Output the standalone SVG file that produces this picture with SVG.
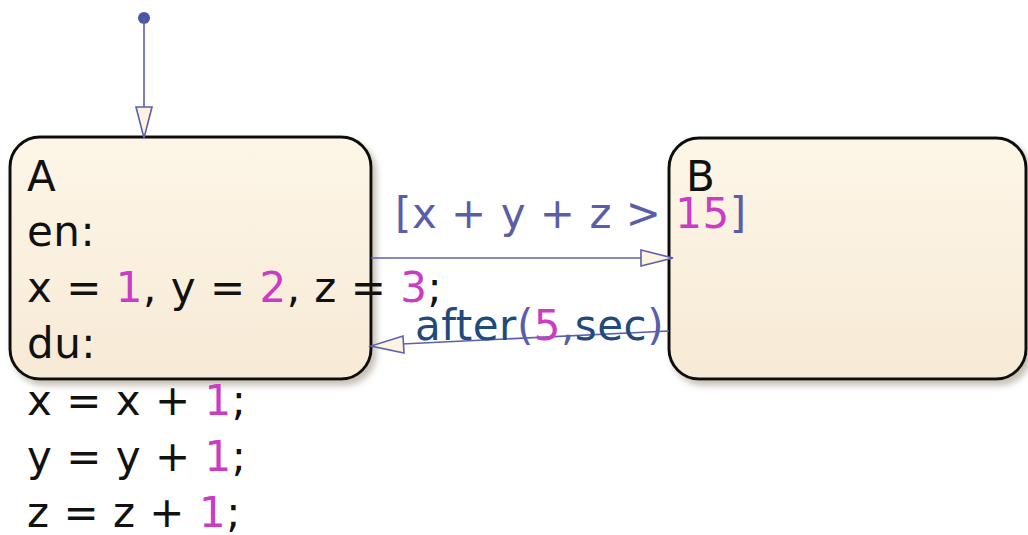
<svg xmlns="http://www.w3.org/2000/svg" width="1028" height="535" viewBox="0 0 1028 535">
<style>
.t{font-family:"DejaVu Sans",Verdana,sans-serif;font-size:42px;fill:#111;letter-spacing:0.5px}
.n{fill:#c93cc4}
.g{fill:#5a5ea8}
.k{fill:#1f4a7c}
.state{stroke:#111;stroke-width:3;fill:url(#fillg)}
.tr{stroke:#5b60ac;stroke-width:1.6;fill:none}
.ah{stroke:#5b60ac;stroke-width:1.6;fill:#fdf3e0}
</style>
<defs>
<linearGradient id="fillg" x1="0" y1="0" x2="0" y2="1">
<stop offset="0" stop-color="#fdf6e7"/>
<stop offset="1" stop-color="#f7ead6"/>
</linearGradient>
<filter id="sh" x="-10%" y="-10%" width="125%" height="125%">
<feDropShadow dx="4" dy="5" stdDeviation="3" flood-color="#9a8f7a" flood-opacity="0.55"/>
</filter>
</defs>
<g id="stateA">
<rect class="state" x="10" y="137" width="361" height="242" rx="30" ry="30" filter="url(#sh)"/>
<text class="t" x="27" y="191">A</text>
<text class="t" x="27" y="246">en:</text>
<text class="t" x="27" y="302">x = <tspan class="n">1</tspan>, y = <tspan class="n">2</tspan>, z = <tspan class="n">3</tspan>;</text>
<text class="t" x="27" y="358">du:</text>
<text class="t" x="27" y="415">x = x + <tspan class="n">1</tspan>;</text>
<text class="t" x="27" y="471">y = y + <tspan class="n">1</tspan>;</text>
<text class="t" x="27" y="527">z = z + <tspan class="n">1</tspan>;</text>
</g>
<g id="stateB">
<rect class="state" x="669" y="138" width="357" height="241" rx="30" ry="30" filter="url(#sh)"/>
<text class="t" x="686" y="191">B</text>
</g>
<g id="connectors">
<circle cx="144" cy="18" r="6" fill="#4a55a3"/>
<line class="tr" x1="144" y1="18" x2="144" y2="107"/>
<path class="ah" d="M136,107 L152,107 L144,138 Z"/>
<line class="tr" x1="371" y1="258" x2="641" y2="258"/>
<path class="ah" d="M641,250 L641,266 L673,258 Z"/>
<line class="tr" x1="669" y1="331" x2="402" y2="344"/>
<path class="ah" d="M403,336 L404,353 L371,346 Z"/>
<text class="t g" x="395" y="228">[x + y + z &gt; <tspan class="n">15</tspan>]</text>
<text class="t g" x="415" y="340"><tspan class="k">after</tspan>(<tspan class="n">5</tspan>,<tspan class="k">sec</tspan>)</text>
</g>
</svg>
